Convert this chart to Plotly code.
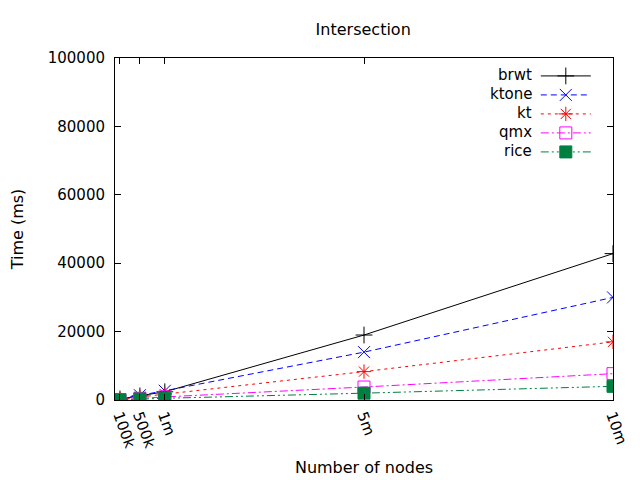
import plotly.graph_objects as go

# node counts and timings (ms)
nodes = [100000, 500000, 1000000, 5000000, 10000000]
node_labels = ["100k", "500k", "1m", "5m", "10m"]

brwt = [300, 1200, 2400, 19000, 42800]
ktone = [300, 1400, 2700, 14000, 30000]
kt = [200, 900, 1700, 8300, 17000]
qmx = [100, 500, 900, 3800, 7700]
rice = [50, 300, 500, 2000, 4000]

names = ["brwt", "ktone", "kt", "qmx", "rice"]
series = [brwt, ktone, kt, qmx, rice]
colors = ["black", "#0000ff", "#ff0000", "#ff00ff", "#008040"]
dashes = ["solid", "6px,4px", "3px,4px", "8px,3px,2px,3px", "8px,3px,2px,3px,2px,3px"]
symbols = ["cross-thin-open", "x-thin-open", "asterisk-open", "square-open", "square"]

fig = go.Figure()
for name, vals, col, dash, sym in zip(names, series, colors, dashes, symbols):
    fig.add_trace(go.Scatter(
        x=nodes, y=vals, name=" ", mode="lines+markers",
        line=dict(color=col, width=1, dash=dash),
        marker=dict(symbol=sym, size=12, color=col, line=dict(color=col, width=1)),
    ))

# gnuplot-style key: labels on the left of the samples
row_y = [0.950, 0.895, 0.839, 0.784, 0.728]
for name, yy in zip(names, row_y):
    fig.add_annotation(text=name, x=0.841, y=yy, xref="paper", yref="paper",
                       xanchor="right", yanchor="middle", showarrow=False,
                       font=dict(size=15))

fig.update_layout(
    width=640, height=480,
    margin=dict(l=107, r=35, t=50, b=88),
    paper_bgcolor="white", plot_bgcolor="white",
    font=dict(family="DejaVu Sans", size=15, color="black"),
    title=dict(text="Intersection", x=0.555, xanchor="center",
               y=0.955, yanchor="middle", font=dict(size=16)),
    legend=dict(x=0.845, y=0.99, xanchor="left", yanchor="top",
                bgcolor="rgba(0,0,0,0)", font=dict(size=12), tracegroupgap=0,
                itemwidth=50),
)
fig.update_xaxes(
    range=[0, 10000000], tickvals=nodes, ticktext=node_labels, tickangle=70,
    showgrid=False, zeroline=False, showline=True, linecolor="black", linewidth=1,
    mirror="allticks", ticks="inside", ticklen=6, tickcolor="black",
    tickfont=dict(size=15), automargin=False,
    title=dict(text="Number of nodes", standoff=12, font=dict(size=16)),
)
fig.update_yaxes(
    range=[0, 100000], dtick=20000, tickformat="d", showgrid=False, zeroline=False,
    showline=True, linecolor="black", linewidth=1, mirror="allticks",
    ticks="inside", ticklen=6, tickcolor="black", ticklabelstandoff=6,
    tickfont=dict(size=15), automargin=False,
    title=dict(text="Time (ms)", standoff=20, font=dict(size=16)),
)

fig.write_html("out.html")
